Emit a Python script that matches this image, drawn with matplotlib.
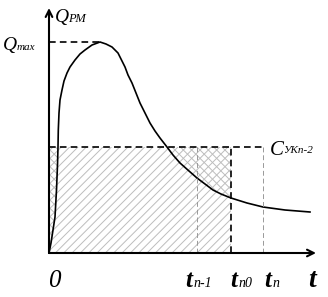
import matplotlib.pyplot as plt
import numpy as np

# curve Q_PM(t) (arbitrary units)
t_vals = [0, 0.2, 0.4, 0.6, 0.75, 0.85, 0.9, 0.93, 1.0, 1.1, 1.3, 1.5, 1.8,
          2.1, 2.6, 3.1, 3.6, 4.3, 5.1, 5.7, 6.3, 6.6, 6.9, 7.2, 7.6, 7.9,
          8.3, 8.7, 9.1, 9.6, 10.1, 10.6, 11.1, 11.8, 12.4, 13.1, 14.0, 14.8,
          15.6, 16.4, 17.2, 18.2, 19.8, 21.4, 23.6, 26.1]
q_vals = [0, 1.0, 2.3, 3.6, 6.3, 8.8, 10.6, 12.3, 14.0, 15.3, 16.3, 17.2,
          18.0, 18.6, 19.3, 19.9, 20.3, 20.8, 21.1, 20.9, 20.6, 20.3, 20.0,
          19.4, 18.6, 17.8, 17.0, 16.0, 15.0, 14.0, 13.0, 12.2, 11.5, 10.6,
          9.8, 9.0, 8.2, 7.5, 6.9, 6.3, 5.9, 5.5, 5.0, 4.6, 4.3, 4.1]

q_max = 21.1
t_peak = 5.3
c_level = 10.6
t_n1 = 14.8   # t_{n-1}
t_n0 = 18.2   # t_{n0}
t_n = 21.4    # t_n
t_end = 26.7
q_top = 24.5

t = np.array(t_vals)
q = np.array(q_vals)

plt.rcParams["hatch.linewidth"] = 0.7
serif = "Liberation Serif"

fig = plt.figure(figsize=(3.28, 2.97), dpi=100)
ax = fig.add_axes([0, 0, 1, 1])
ax.set_xlim(-4.9, 27.9)
ax.set_ylim(-4.4, 25.3)
ax.axis("off")

# hatched rectangle 0..t_n0 under C
ax.fill_between([0, t_n0], 0, c_level, facecolor="none", edgecolor="#bdbdbd",
                hatch="////", linewidth=0)
# cross-hatched part above the curve
mask = (q <= c_level) & (t <= t_n0)
ax.fill_between(t, q, c_level, where=mask, interpolate=True, facecolor="none",
                edgecolor="#bdbdbd", hatch="\\\\\\\\", linewidth=0)

# curve
ax.plot(t, q, color="black", linewidth=1.2, solid_joinstyle="round")

# dashed guides
ax.plot([0, t_peak], [q_max, q_max], "k--", linewidth=1.2, dashes=(4, 2.5))
ax.plot([0, t_n], [c_level, c_level], "k--", linewidth=1.2, dashes=(4, 2.5))
ax.plot([t_n0, t_n0], [0, c_level], "k--", linewidth=1.2, dashes=(4, 2.5))
ax.plot([t_n1, t_n1], [0, c_level], "--", color="#999999", linewidth=0.7, dashes=(5, 3))
ax.plot([t_n, t_n], [0, c_level], "--", color="#999999", linewidth=0.7, dashes=(5, 3))

# axes with arrows
ax.annotate("", xy=(0, q_top), xytext=(0, 0),
            arrowprops=dict(arrowstyle="->", lw=1.5, color="black",
                            shrinkA=0, shrinkB=0, mutation_scale=12))
ax.annotate("", xy=(t_end, 0), xytext=(0, 0),
            arrowprops=dict(arrowstyle="->", lw=1.5, color="black",
                            shrinkA=0, shrinkB=0, mutation_scale=12))

# labels
big = dict(family=serif, style="italic", color="black", va="baseline")
ax.text(0.6, 23.1, "Q", fontsize=14, ha="left", **big)
ax.text(1.9, 23.1, "РМ", fontsize=9, ha="left", **big)
ax.text(-4.6, 20.3, "Q", fontsize=14, ha="left", **big)
ax.text(-3.2, 20.3, "max", fontsize=8, ha="left", **big)
ax.text(22.1, 9.8, "C", fontsize=15, ha="left", **big)
ax.text(23.4, 10.0, "УКn-2", fontsize=8, ha="left", **big)

ax.text(0.5, -3.4, "0", fontsize=18, ha="center", **big)
bold = dict(big, weight="bold")
ax.text(14.3, -3.4, "t", fontsize=18, ha="right", **bold)
ax.text(14.4, -3.4, "n-1", fontsize=10, ha="left", **big)
ax.text(18.8, -3.4, "t", fontsize=18, ha="right", **bold)
ax.text(18.9, -3.4, "n0", fontsize=10, ha="left", **big)
ax.text(22.2, -3.4, "t", fontsize=18, ha="right", **bold)
ax.text(22.3, -3.4, "n", fontsize=10, ha="left", **big)
ax.text(26.3, -3.4, "t", fontsize=20, ha="center", **bold)

fig.savefig("out.png", dpi=100)
